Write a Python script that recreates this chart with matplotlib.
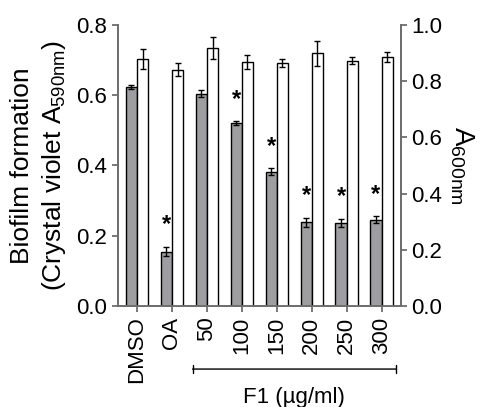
import numpy as np
import matplotlib
matplotlib.use("Agg")
import matplotlib.pyplot as plt

plt.rcParams['font.family'] = ['Liberation Sans', 'DejaVu Sans']
plt.rcParams['mathtext.default'] = 'regular'

labels = ["DMSO", "OA", "50", "100", "150", "200", "250", "300"]
biofilm = [0.623, 0.155, 0.604, 0.520, 0.382, 0.238, 0.236, 0.245]
biofilm_err = [0.005, 0.014, 0.010, 0.006, 0.010, 0.013, 0.012, 0.010]
growth = [0.879, 0.841, 0.917, 0.869, 0.864, 0.899, 0.872, 0.887]
growth_err = [0.035, 0.022, 0.039, 0.025, 0.015, 0.045, 0.012, 0.018]
significant = [False, True, False, True, True, True, True, True]

grey = "#9e9ea2"
spine_col = "#6e6e6e"
x = np.arange(len(labels))
w = 0.32

fig = plt.figure(figsize=(4.87, 4.07), dpi=100)
ax = fig.add_axes([0.242, 0.248, 0.581, 0.691])
ax2 = ax.twinx()

ax.bar(x - w / 2, biofilm, w, color=grey, edgecolor="black", linewidth=1.0,
       yerr=biofilm_err, error_kw=dict(ecolor="black", elinewidth=1, capsize=2.5, capthick=1))
ax2.bar(x + w / 2, growth, w, color="white", edgecolor="black", linewidth=1.0,
        yerr=growth_err, error_kw=dict(ecolor="black", elinewidth=1, capsize=2.5, capthick=1))

for i in range(len(labels)):
    if significant[i]:
        ax.text(x[i] - w / 2, biofilm[i] + biofilm_err[i] + 0.03, "*", ha="center",
                va="bottom", fontsize=17, fontweight="bold")

ax.set_xlim(-0.55, 7.55)
ax.set_ylim(0, 0.8)
ax2.set_ylim(0, 1.0)
ax.set_yticks([0, 0.2, 0.4, 0.6, 0.8])
ax2.set_yticks([0, 0.2, 0.4, 0.6, 0.8, 1.0])
ax.set_xticks(x)
ax.set_xticklabels(labels, rotation=90, fontsize=16)

for a in (ax, ax2):
    a.spines['top'].set_visible(False)
    for s in ('left', 'right', 'bottom'):
        a.spines[s].set_color(spine_col)
        a.spines[s].set_linewidth(1.3)
    a.tick_params(axis='both', colors=spine_col, labelcolor="black", labelsize=16,
                  direction='out', length=4, width=1.3)
ax.tick_params(axis='x', labelsize=16)

ax.set_ylabel("Biofilm formation\n(Crystal violet A$_{590nm}$)", fontsize=19, labelpad=6,
              linespacing=1.3)
ax2.set_ylabel("A$_{600nm}$", fontsize=20, rotation=270, labelpad=24)

trans = ax.get_xaxis_transform()
ax.annotate("", xy=(7.42, -0.224), xytext=(1.59, -0.224), xycoords=trans, textcoords=trans,
            arrowprops=dict(arrowstyle="|-|, widthA=0.3, widthB=0.3", color="black", lw=1.0,
                            shrinkA=0, shrinkB=0), annotation_clip=False)
ax.text(4.5, -0.325, "F1 (µg/ml)", transform=trans, ha="center", va="center", fontsize=16)

fig.savefig("out.png", dpi=100)
